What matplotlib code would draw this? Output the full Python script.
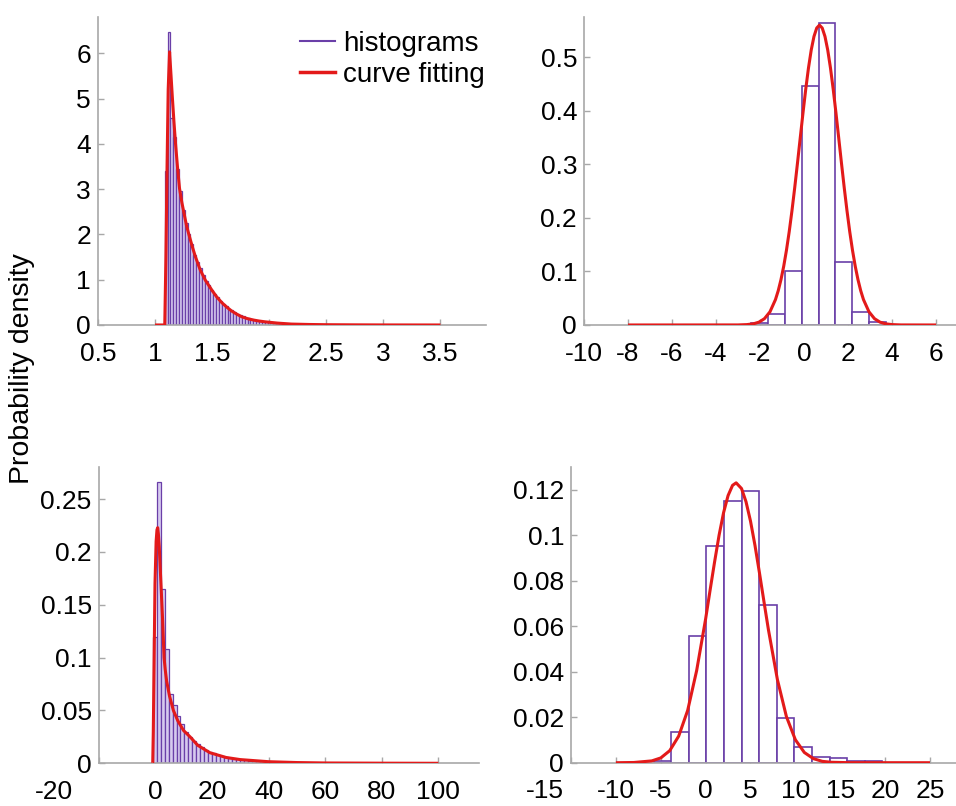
import matplotlib
matplotlib.use("Agg")
import matplotlib.pyplot as plt
from matplotlib.lines import Line2D
from matplotlib.ticker import FormatStrFormatter
import numpy as np

plt.rcParams['font.family'] = ['Liberation Sans', 'DejaVu Sans']

PURPLE = '#6a3fa8'
RED = '#e31a1a'
GRAY = '#a8a8a8'
LAVENDER = '#d6caee'

# ---- top left: dense histogram + fitted curve
tl_bin_start = 1.085
tl_bin_width = 0.025
tl_heights = [3.4, 6.47, 4.57, 4.15, 3.45, 2.95, 2.55, 2.25, 2.0, 1.78,
              1.55, 1.40, 1.25, 1.10, 0.98, 0.88, 0.78, 0.68, 0.62, 0.52,
              0.47, 0.42, 0.36, 0.33, 0.28, 0.25, 0.21, 0.19, 0.16, 0.145,
              0.125, 0.11, 0.095, 0.085, 0.075, 0.065, 0.058, 0.05, 0.045, 0.04,
              0.035, 0.03, 0.027, 0.024, 0.021, 0.019, 0.017, 0.015, 0.013, 0.012,
              0.010, 0.009, 0.008, 0.007, 0.006, 0.005, 0.005, 0.004, 0.003, 0.003,
              0.002, 0.002, 0.002, 0.001, 0.001]
tl_curve_x = [1.0, 1.085, 1.095, 1.105, 1.115, 1.127, 1.14, 1.151, 1.165, 1.179,
              1.196, 1.214, 1.235, 1.255, 1.275, 1.296, 1.325, 1.353, 1.395, 1.44,
              1.5, 1.54, 1.586, 1.63, 1.67, 1.715, 1.76, 1.81, 1.86, 1.91, 1.963,
              2.07, 2.195, 2.35, 2.5, 2.75, 3.0, 3.5]
tl_curve_y = [0, 0, 1.5, 3.5, 5.2, 6.03, 5.5, 5.04, 4.5, 4.01,
              3.5, 3.02, 2.7, 2.45, 2.2, 2.0, 1.74, 1.51, 1.22, 0.99,
              0.76, 0.62, 0.49, 0.39, 0.31, 0.24, 0.18, 0.14, 0.11, 0.088, 0.07,
              0.042, 0.02, 0.011, 0.006, 0.003, 0.001, 0]

# ---- top right
tr_edges = [-2.42, -1.651, -0.882, -0.113, 0.656, 1.425, 2.194, 2.963, 3.732]
tr_heights = [0.003, 0.02, 0.101, 0.446, 0.564, 0.117, 0.025, 0.006]
tr_curve_x = [-8, -3.0, -2.6, -2.3, -2.05, -1.8, -1.55, -1.3, -1.175, -1.05, -0.925,
              -0.8, -0.675, -0.55, -0.425, -0.3, -0.175, -0.05, 0.075, 0.2, 0.325,
              0.45, 0.575, 0.7, 0.825, 0.95, 1.075, 1.2, 1.325, 1.45, 1.575, 1.7,
              1.825, 1.95, 2.075, 2.2, 2.325, 2.45, 2.575, 2.7, 2.95, 3.2, 3.45,
              3.7, 4.0, 4.4, 6]
tr_curve_y = [0, 0.0001, 0.0007, 0.0022, 0.0053, 0.0118, 0.0246, 0.0474, 0.0639,
              0.0846, 0.1097, 0.1397, 0.1743, 0.2135, 0.2564, 0.3021, 0.3491, 0.3957,
              0.4400, 0.4799, 0.5135, 0.5388, 0.5546, 0.56, 0.5546, 0.5388, 0.5135,
              0.4799, 0.4400, 0.3957, 0.3491, 0.3021, 0.2564, 0.2135, 0.1743, 0.1397,
              0.1097, 0.0846, 0.0639, 0.0474, 0.0246, 0.0118, 0.0053, 0.0022, 0.0007,
              0.0001, 0]

# ---- bottom left
bl_bin_start = -0.9
bl_bin_width = 1.4
bl_heights = [0.12, 0.266, 0.165, 0.108, 0.066, 0.055, 0.045, 0.037, 0.030, 0.025,
              0.021, 0.018, 0.015, 0.013, 0.011, 0.0095, 0.008, 0.007, 0.006, 0.005,
              0.0045, 0.004, 0.0035, 0.003, 0.0026, 0.0022, 0.002, 0.0017, 0.0015, 0.0013,
              0.0011, 0.001, 0.0009, 0.0008, 0.0007, 0.0006, 0.0005, 0.0004, 0.0003, 0.0002]
bl_curve_x = [-1, -0.9, -0.7, -0.4, -0.1, 0.3, 0.6, 0.85, 1.1, 1.4, 2, 2.6, 3.1, 3.5,
              4, 5, 6.4, 8, 10, 12.3, 15, 19.3, 25, 30, 40, 50, 60, 80, 100]
bl_curve_y = [0, 0, 0.03, 0.10, 0.17, 0.21, 0.221, 0.223, 0.217, 0.205, 0.17, 0.135,
              0.10, 0.089, 0.078, 0.064, 0.05, 0.04, 0.031, 0.025, 0.017, 0.01, 0.0055,
              0.0035, 0.0015, 0.0007, 0.0003, 0.0001, 0]

# ---- bottom right
br_bin_start = -5.8
br_bin_width = 1.962
br_heights = [0.0008, 0.0135, 0.0556, 0.0951, 0.115, 0.1196, 0.0692, 0.0197,
              0.0071, 0.0027, 0.002, 0.0009, 0.0006]
br_curve_x = [-10, -8, -6, -5, -4, -3, -2, -1, 0, 0.5, 1, 1.5, 2, 2.5, 3, 3.4, 4, 4.5,
              5, 5.5, 6, 6.5, 7, 8, 9, 10, 11, 12, 13, 14, 16, 25]
br_curve_y = [0, 0.0001, 0.0008, 0.0021, 0.0053, 0.0117, 0.023, 0.0405, 0.0632,
              0.0759, 0.0883, 0.1000, 0.1099, 0.1174, 0.1219, 0.123, 0.1205, 0.1147,
              0.1062, 0.0955, 0.0834, 0.0708, 0.0584, 0.0365, 0.0203, 0.0101, 0.0045,
              0.0018, 0.0006, 0.0002, 0.00002, 0]

fig = plt.figure(figsize=(9.56, 8.06), dpi=100)

ax_tl = fig.add_axes([0.1025, 0.5968, 0.406, 0.382])
ax_tr = fig.add_axes([0.6109, 0.5968, 0.389, 0.382])
ax_bl = fig.add_axes([0.1032, 0.0530, 0.398, 0.367])
ax_br = fig.add_axes([0.5973, 0.0537, 0.4027, 0.367])

TICK_FS = 19
X_PAD = 12


def draw_panel(ax, edges, heights, cx, cy, lw_bar, face):
    edges = np.asarray(edges)
    ax.bar(edges[:-1], heights, width=np.diff(edges), align='edge',
           facecolor=face, edgecolor=PURPLE, linewidth=lw_bar, zorder=2)
    ax.plot(cx, cy, color=RED, linewidth=2.2, zorder=3, solid_capstyle='butt')
    for s in ['top', 'right']:
        ax.spines[s].set_visible(False)
    for s in ['left', 'bottom']:
        ax.spines[s].set_color(GRAY)
        ax.spines[s].set_linewidth(1.2)
    ax.tick_params(direction='in', length=4, width=1, color=GRAY,
                   labelsize=TICK_FS, labelcolor='black')
    ax.tick_params(axis='x', pad=X_PAD)
    ax.tick_params(axis='y', pad=5)
    ax.xaxis.set_major_formatter(FormatStrFormatter('%g'))
    ax.yaxis.set_major_formatter(FormatStrFormatter('%g'))


def shifted_first_xlabel(ax, ticks, dx_px):
    # first x tick label sits further left in the reference
    ax.set_xticks(ticks)
    ax.set_xticklabels([''] + ['%g' % t for t in ticks[1:]])
    ax.annotate('%g' % ticks[0], xy=(ticks[0], 0), xycoords=('data', 'axes fraction'),
                xytext=(dx_px * 0.72, -X_PAD), textcoords='offset points',
                ha='center', va='top', fontsize=TICK_FS)


tl_edges = tl_bin_start + tl_bin_width * np.arange(len(tl_heights) + 1)
draw_panel(ax_tl, tl_edges, tl_heights, tl_curve_x, tl_curve_y, 0.9, LAVENDER)
ax_tl.set_xlim(0.52, 3.90)
ax_tl.set_ylim(0, 6.8)
ax_tl.set_xticks([0.5, 1, 1.5, 2, 2.5, 3, 3.5])
ax_tl.set_yticks([0, 1, 2, 3, 4, 5, 6])

draw_panel(ax_tr, tr_edges, tr_heights, tr_curve_x, tr_curve_y, 1.2, 'white')
ax_tr.set_xlim(-10, 6.9)
ax_tr.set_ylim(0, 0.575)
ax_tr.set_xticks([-10, -8, -6, -4, -2, 0, 2, 4, 6])
ax_tr.set_yticks([0, 0.1, 0.2, 0.3, 0.4, 0.5])

bl_edges = bl_bin_start + bl_bin_width * np.arange(len(bl_heights) + 1)
draw_panel(ax_bl, bl_edges, bl_heights, bl_curve_x, bl_curve_y, 0.9, LAVENDER)
ax_bl.set_xlim(-20, 114.4)
ax_bl.set_ylim(0, 0.28)
shifted_first_xlabel(ax_bl, [-20, 0, 20, 40, 60, 80, 100], -45)
ax_bl.set_yticks([0, 0.05, 0.1, 0.15, 0.2, 0.25])

br_edges = br_bin_start + br_bin_width * np.arange(len(br_heights) + 1)
draw_panel(ax_br, br_edges, br_heights, br_curve_x, br_curve_y, 1.2, 'white')
ax_br.set_xlim(-15, 27.9)
ax_br.set_ylim(0, 0.13)
shifted_first_xlabel(ax_br, [-15, -10, -5, 0, 5, 10, 15, 20, 25], -26)
ax_br.set_yticks([0, 0.02, 0.04, 0.06, 0.08, 0.1, 0.12])

handles = [Line2D([0], [0], color=PURPLE, linewidth=1.5),
           Line2D([0], [0], color=RED, linewidth=2.5)]
ax_tl.legend(handles, ['histograms', 'curve fitting'], loc='upper left',
             bbox_to_anchor=(0.3138, 0.9616), bbox_transform=fig.transFigure,
             frameon=False, fontsize=20, handlelength=1.26, handletextpad=0.3,
             borderpad=0, borderaxespad=0, labelspacing=0.18)

fig.text(0.023, 0.543, 'Probability density', rotation=90,
         ha='center', va='center', fontsize=20.5)

fig.savefig('out.png', dpi=100)
